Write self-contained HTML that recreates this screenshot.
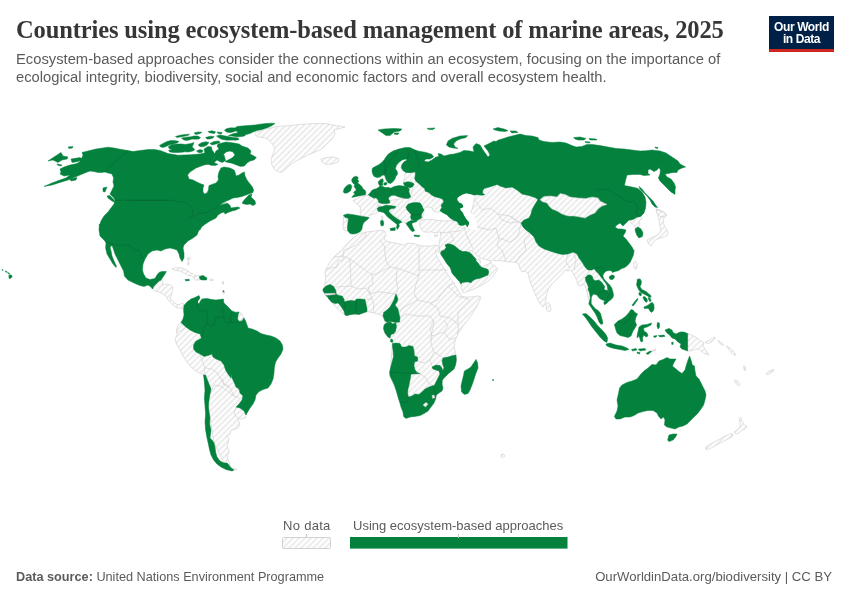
<!DOCTYPE html>
<html lang="en">
<head>
<meta charset="utf-8">
<title>Countries using ecosystem-based management of marine areas, 2025</title>
<style>
html,body{margin:0;padding:0;background:#fff;}
body{width:850px;height:600px;position:relative;overflow:hidden;font-family:"Liberation Sans",sans-serif;}
.title{position:absolute;left:16px;top:16px;margin:0;font-family:"Liberation Serif",serif;font-weight:700;font-size:24.5px;line-height:28px;color:#363636;white-space:nowrap;letter-spacing:-0.12px;}
.sub{position:absolute;left:16px;top:50px;margin:0;font-size:14.75px;line-height:18px;color:#5b5b5b;white-space:nowrap;}
.logo{position:absolute;left:769px;top:16px;width:65px;height:33px;background:#002147;border-bottom:3px solid #ce261e;color:#fff;font-weight:700;font-size:12px;line-height:12px;text-align:center;letter-spacing:-0.4px;}
.logo span{display:block;}
.logo span:first-child{margin-top:5px;}
.src{position:absolute;left:16px;top:569px;font-size:12.7px;line-height:16px;color:#5b5b5b;white-space:nowrap;}
.src b{font-weight:700;}
.url{position:absolute;right:18px;top:569px;font-size:13.15px;line-height:16px;color:#5b5b5b;white-space:nowrap;}
.leg{position:absolute;font-size:13px;line-height:14px;color:#5b5b5b;white-space:nowrap;}
#map{position:absolute;left:0;top:0;}
</style>
</head>
<body>
<h1 class="title">Countries using ecosystem-based management of marine areas, 2025</h1>
<p class="sub">Ecosystem-based approaches consider the connections within an ecosystem, focusing on the importance of<br>ecological integrity, biodiversity, social and economic factors and overall ecosystem health.</p>
<div class="logo"><span>Our World</span><span>in Data</span></div>
<svg id="map" width="850" height="600" viewBox="0 0 850 600">
<defs><pattern id="hatch" patternUnits="userSpaceOnUse" width="4.243" height="4.243" patternTransform="rotate(-45)"><rect width="4.243" height="4.243" fill="#fff"/><rect y="1.3" width="4.243" height="1.7" fill="#e9e9e9"/></pattern></defs>
<g fill="url(#hatch)" stroke="#c8c8c8" stroke-width="0.55" stroke-linejoin="round">
<path d="M255,133 262,130 270,128 278,126.4 290,125.6 300,124.4 314,123.6 326,123.6 336,125.6 345,127 338,129 334,130 335,134 332,139 328,143 324,147 320,150 314,152.4 308,155 302,158 296,161 290,165 286,169 282,172.4 278,171.6 274,169 271.6,164 271,159 273,154 275,149 273,145 269,140 264,137.6 258,137 255,135Z"/>
<path d="M321,159 326,157.6 334,157 339,159 338,162 332,164 326,164.4 322,162.4Z"/>
<path d="M152.4,289 157,283 161,280 163,281 162.4,285 166,284 171,285 173,288 172,292 171,296 170,299 173,301 176,304 179,305 182,303 184,304 184.4,307 183,309 180,308 177,308 174,306 171,303 168,300 166,296 163,294 159,292 155,291Z"/>
<path d="M172,269 176,267.6 182,268 187,270.4 191,273 195,275 198,277 195,277.6 191,276 188,275.6 184,273 180,271 175,270.4Z"/>
<path d="M210,279.4 213,279.2 213.2,280.4 210.2,280.6Z"/>
<path d="M181,322.4 178,325 176.4,330 177,335 175,339 176.4,344 180,350 183,356 187,362 191,367 196,371 201,374 203.6,375 210,418 214,443 224,463 232,468 237,469.6 234,470 231,468 227.6,458 227,455 229,453 229,450 227,447 228,443 229,439 227,436 230,434 231,430 234,429.6 238,428 240,425 239,422 238,418 241,419 245,418 246,415 250,400 230,360 210,340 190,326Z"/>
<path d="M236,312.4 239,312 242,314 244,318 242,321 239,321.4 237,319Z"/>
<path d="M343.5,215.3 345.3,217.6 348.5,218.2 348.2,221.2 347.6,225.9 347.6,230.6 345.3,231.2 343.5,229.4 342.9,224.7 343.5,220Z"/>
<path d="M352.9,200.6 357.6,198.2 362.4,195.9 365.9,195.3 368.8,195.3 371.8,197.1 375.3,198.2 378.2,200.6 378.8,202.9 377.6,205.3 377.1,207.1 377.6,209.4 378.8,211.8 376.5,213.5 372.9,214.4 369.4,215.3 367.1,217.1 361.2,215.9 360,211.8 360.6,208.2 358.8,205.3 355.3,202.9Z"/>
<path d="M381.2,216.5 382.6,216.2 382.9,219.4 381.4,219.8Z"/>
<path d="M405.9,172.9 410.6,171.8 415.3,172.7 422.4,177.6 434.1,189.4 440,195.3 443.8,201.8 442.4,203.5 441.2,205.3 441.4,208.2 441.2,210.4 439.4,211.5 437.1,212.4 434.1,211.5 432.4,210 432.9,208.8 430.8,207.6 428.2,206.8 425.3,207.6 423.5,209.4 424.1,210 422.4,218.8 417.6,220.6 410.6,221.2 406.1,223.5 404.1,222.4 401.8,220.6 398.8,218.8 395.9,216.5 392.9,214.1 390.6,212.4 390,210 391.8,209.2 394.7,208.2 395.9,206.5 389.4,205.6 378.8,207.1 377.6,204.7 378.8,202.4 389.4,200.6 410.6,197.1 412.9,186.5 414.1,184.1 411.8,182.4 407.6,181.8 403.5,182.9 403.5,180 405.3,177.6 404.1,175.3Z"/>
<path d="M421.8,220 425.3,219.6 429.4,219.3 434.1,219.8 438.8,220.5 443.5,220.9 448.2,220.7 451.8,220.7 454.1,220.9 470.6,215.3 480,176 510,180 538,196 550,240 580,250 595.3,267.6 609.4,288.8 607.1,291.2 598.8,285.3 590.8,285.3 590.4,297.1 589.2,300.8 588.2,298.2 587.6,294.7 586.8,291.8 585.9,288.2 584.7,285.3 584,284 581,286 578,285 577,281 575,277 573,273 571,270 568,271 565,270 563,273 560,276.4 556,280 552,284 549,288 547,293 546,299 545,304 543,307 541,305 538.4,301 536,296 533.6,290 531,284 529,278 528,273 525,271 522,272 520,269 519,265 516,262.4 511,262 505,261.6 500,260.5 496,260.8 492.5,260 490,260.8 489,260.5 485,259.5 481,258 477.5,256 474.5,253.5 472,251 469.5,250 469.5,252 471.5,253.8 474,256.5 476,258.5 477.5,260.5 478,259.5 480,259 480.5,263 480,264 480.5,265.8 482.5,267 485,265 488,264.5 490,262.5 490.5,261.2 491.5,264 494,265.5 496.5,267.5 497.8,269.5 496,272 494,275 491.5,278 489,280.5 486,282.5 482,285 478,287 474,289 470,290.5 466,292 463,292.8 462,290 461,287 460.8,284 459.5,281.5 457.5,279.5 455.5,277 453.5,275 451.8,272.5 451,269.5 449.8,267 447.5,264.5 445.8,262 444,259 442.2,256.5 440.5,253.5 440,251 439.5,248.5 438.5,246 438.2,250 438.8,245.9 439.4,242.4 440,238.8 440.6,235.3 440.6,231.8 437.6,232.4 434.1,232.9 430.6,231.8 427.1,232.4 423.5,231.8 421.8,230 420.6,227.1 419.4,224.1 420,221.2Z"/>
<path d="M546,304 548.4,302.4 550.4,305.6 551,309.6 549,312 546.4,310Z"/>
<path d="M434.1,235.3 437.6,234.4 437.4,236.2 434.7,236.7Z"/>
<path d="M641,216 637,217 634,219 631,220 629,220 631,223 633.6,225 635.6,228 638.4,226.6 640,224 639,221 642,219Z"/>
<path d="M656,209 660,210 664,212 666.4,215 664,218 663,222 665,227 668,232 667.6,235 664,237 660,238 656,239.6 653,242.4 651,246 648,243 647,240 651,238 655,236 659,234 661,230 660,226 659,221 658,216 657,212.4Z"/>
<path d="M656,209 660,211 665,213 667,215 663,217 659,216 657,213Z"/>
<path d="M633.5,262.9 635.3,261.2 636.7,262.4 637.1,266.5 635.9,269.4 634.4,268.2 633.5,265.3Z"/>
<path d="M651.6,350.4 656,349 655.6,350.6 652,351.6Z"/>
<path d="M687.6,333.6 692,335 697,338 701,341 704,343 703,345.6 705,349 708,353 709,355 705,354 701,351 698,349 694,350 690,351 687.6,351Z"/>
<path d="M705,342 710,340 714,337 715.6,338 712,341.6 708,343.6Z"/>
<path d="M739,418 741,417.6 742,421 744.4,425 747,426.4 745,429 742,430 739,433 736,434 734,432 737,430 740,427 740,423Z"/>
<path d="M705.6,447 709,445 714,442 720,439 725,436 730,434 733,434 732,437 728,439 723,441.6 718,444 713,447 708,449.6 705.6,449Z"/>
<path d="M734.4,380.4 736.4,380 740,384 739,386 736,383.6Z"/>
<path d="M357,235 360,233.6 366,232 374,231 380,230.4 384.4,231 386,235 384,239 387,241.6 392,242.4 398,243.6 404,245 408,243 414,243.6 420,245.6 426,246 432,246 435,245 438.5,246.2 439.5,248.5 439,252.5 437.8,252 436,250 435.5,251.5 436.8,255.5 438.6,259.5 441,263.5 443.4,267 445.4,270.5 447.4,274 449.4,276.8 451.4,279.8 453.4,282.8 455.4,285.8 457.4,288.8 458.8,291.5 460.5,293.5 461,296 466,297 472,297 478,296 481,297 479,302 476,308 472,314 468,320 463,326 459,332 456,338 454.4,344 454.4,348 455.6,353 456,355 440,380 420,415.6 400,400 390,376 392.4,343.6 390.4,339 388,337 385,333 387,335.6 384.4,332 383.6,328 385,324 385,321 383,316 378,314 372,312.4 367,311.6 363,313 359,314.4 355,314 351,314.4 347,315.6 345,315 343,313.6 339,310 335,306 332,302.4 329.6,300 328,297.6 326,295.6 324.4,293 323,289 325,284 325.6,278 325,272 327,267 330,262 334,257 338,253 342,250 345,246 349,242 353,238Z"/>
<path d="M718.2,340.5 721.1,342.4 723.9,344.8 722.4,345.6 719.7,343.3Z"/>
<path d="M726.7,346.1 730.5,348.6 734.2,351.8 735.6,355.5 732.9,354.2 729.5,350.8Z"/>
<path d="M743.6,365.9 745,366.3 745.7,370.6 744.2,370Z"/>
<path d="M766.2,373 770,370.6 773.8,369.6 772.8,371.5 769.1,373.8 766.8,374.9Z"/>
<path d="M187,258 189.6,257.4 190.4,259.6 188,260.4Z"/>
<path d="M188,261.6 189.2,262 188.8,265.2 187.6,264.4Z"/>
<path d="M222.4,281.6 223.6,281.6 223.6,284 222.4,284Z"/>
<path d="M222.8,291 224.4,291 224.4,293.6 222.8,293.6Z"/>
<path d="M194,278.8 195.5,276.5 197.8,275.5 200,276 200,279.8 197.2,280.2 195,279.8Z"/>
<path d="M501,454.7 503.7,454 505,456 503,457.7 501,456.7Z"/>
</g>
<g fill="none" stroke="#c8c8c8" stroke-width="0.55" stroke-linejoin="round">
<path d="M366,232.4 365,237 360,241 356,245 350,248 344,250 343,256"/>
<path d="M334,257 343,256 343,260 338,261 337,267 331,268 326,269"/>
<path d="M343,256 350,259 351,286 336,287"/>
<path d="M350,259 372,275 378,273 390,267"/>
<path d="M380,240 384.4,246 385,254 386,261 390,267"/>
<path d="M390,267 397,268 419,276"/>
<path d="M419,245.6 419,276"/>
<path d="M419,270 448,270"/>
<path d="M372,275 373,284 368,287 370,294 372,299"/>
<path d="M370,294 378,291.6 388,293 396,294"/>
<path d="M397,268 396,280 398,288 396,294"/>
<path d="M419,276 416,284 414,294 418,300 410,304 402,308 399,314"/>
<path d="M418,300 430,303 438,300 440,296 448,286 455,283"/>
<path d="M448,286 458,296 470,300 462,308 458,312 458,324 450,318 440,316 438,308 430,303"/>
<path d="M400,318 406,314 418,316 430,316 434,322 432,332 430,340"/>
<path d="M458,324 458.4,329.6 457,334"/>
<path d="M351,286 358,289 366,288 370,294"/>
<path d="M366,299.6 370,299 372,299 374,304 373,312.4"/>
<path d="M417.6,361 424,363 430,360 434,352 431,344 432,336 430,328 434,320"/>
<path d="M430,360 433,369"/>
<path d="M434,352 442,357 443,358"/>
<path d="M411,374 420,373.6 426,378 429,384 433,385.6"/>
<path d="M457,337 450,340 444,332 448,326 444,320"/>
<path d="M432,336 444,332"/>
<path d="M440,233 450,232 460,231 464,227"/>
<path d="M464,227 466,234 470,242 473,249"/>
<path d="M450,232 454,240 446,244.4"/>
<path d="M477,227 490,230 496,228 499,238 497,246 502,250 506,261"/>
<path d="M499,238 510,242 518,237 521,223"/>
<path d="M516,263 520,256 526,250 524,240 530,233"/>
<path d="M475,200 482,210 490,208 498,214 510,216 521,223"/>
<path d="M534,237 550,246 562,250"/>
<path d="M568,254 566,262 570,268"/>
<path d="M573,252 576,260 574,270"/>
<path d="M510,216 514,220 521,223"/>
<path d="M498,214 502,220 510,223 518,222"/>
<path d="M181,322.4 186,327 182,330 177,332.4"/>
<path d="M200,354 202,360 205,368 203.6,375"/>
<path d="M205,368 212,369 218,374 221,380 224,384 230,386"/>
<path d="M212,354 216,359"/>
<path d="M210,394 214,385 220,386 226,390 234,396 239,398"/>
<path d="M222,378 224,385 230,388 234,396"/>
<path d="M236,407 234,414 238,418"/>
</g>
<g fill="#03813d" stroke="#03813d" stroke-width="0.5" stroke-linejoin="round">
<path d="M82,152.4 88,151 96,149 108,147.2 114,148 120,149.2 128,150.6 133,151.6 140,150.6 148,149.6 154,149.4 160,150.4 168,153.6 178,155.2 190,154.8 200,154 207,152.4 211,151 214,153 215,157 213,160 210,162.4 207,164.4 204,165 196,168 190,172 187.6,175 189,179 193,180 196,181.6 200,183.6 204,185 203,188 203,192 204.4,194 207,193 208.4,190 209,185.6 212,184.4 216,183 218.4,180 218,176 219,172 221,168 224,167 230,168 234,170 235,172 236,176 239,175 242,173 244.4,172 245,176 247,180 250,184 252.4,187 253.6,190 253,192.4 250,193.6 246,195 242,196.4 237,197.6 233,198 229,200 224,202 221,204 219,205.6 224,204 228,203.6 230,205.6 231,208 234,207.6 238,207 240,208 236,210 232,211 228,212.4 225,214 224,212 221,213 218,215 216,218 213,219.6 210,221 207,223 204,225 201.6,227 200,230 199,230 197,235 193,238 188,241 184,245 183,248 184,253 184,258 182,261.6 180,258 179,254 177,250 174,249 170,248 165,249 161,251 157,250 152,251 148,254 145,259 143,264 142.4,270 143.6,274 146,278 150,279.6 155,278.4 157,275 159,272.4 162,271.4 166.4,271.6 165,274 163,277 161,280 159,281 157,283 154,286 152.4,289 151,287 148,285 144,286.4 140,285.6 134,283 128,280 124.4,276 123.6,271 121,266 118,260 115,254 113,248 112,245.6 110,247 111,251 112,256 114,261 116.4,266 116,267.6 113,264 110,259 107,254 105.6,248 106,243 105,241 100,236 99,230 99.4,224 99.4,226 101,221 104,216 108,212 111,208 114,204 115,200 113,197 110,194 112,190 114,186 113,182 113.6,178 112,174 108,173 105,172 102,172.4 98,172.4 94,171.6 90,171 86,172.4 80,175 74,177.6 68,180 60,182.4 52,185 44,186.4 52,183 60,180 66,178 70,175 64,176 60,174 61,172 60,169 64,167 70,165 77,163.6 80,161.6 79,159 82,158 83,155Z"/>
<path d="M48,161 54,157 61,152.4 63,156 68,157 67,159 62,160 58,162.4 53,160Z"/>
<path d="M71,159 80,157.6 82,159 78,161.6 72,162.4Z"/>
<path d="M68,147 73,146.6 72.4,148 69,148.4Z"/>
<path d="M57,164 62,165 61,166 57.6,165.2Z"/>
<path d="M70,179 77,177.6 76,180 71,181Z"/>
<path d="M103,188 107,187 105,192 103,191.6Z"/>
<path d="M107,196 110,195.6 114,200 115,202.4 112,201 108,198Z"/>
<path d="M224.5,130 227,128.5 231,127.8 235,128 237,126.5 242,126 248,125.5 255,125 260,124.2 266,123.5 272,123.2 275,123.5 272,125.5 268,127.5 262,129.5 257,130.5 253,132 250,133.5 246,134.5 244.5,136 240,136.8 236,136.8 232,136 228.5,135.5 231,134.5 234,133.5 237,133 238,131.5 235,131 233,132 230,132.5 227,132.2 225.5,131.2Z"/>
<path d="M216.5,136 220,135 224,135.8 228,136.5 233,137.5 238,138 239,139.5 236,140.2 232,140 228,140.2 224,139.8 221,139 218.5,137.5Z"/>
<path d="M159.5,145.5 163,143.5 167,141.5 171,140.5 176,140.8 179,141.5 177,143 173,144 169,145 166,146.5 163,147.5 160.5,146.8Z"/>
<path d="M168.5,146.5 172,144.5 177,144 182,144 185,144.5 188,144 191,143.5 194,142.5 193,145 192,147 194.5,149 194,150.5 191,151.5 188,152 185,151.8 182,152.2 178,152.5 174,152.5 170,152 168.5,150.5 172,149.5 169,148.5Z"/>
<path d="M175.5,136.5 180,135.2 185,134.5 189.5,134.2 188,135.5 184,136.2 180,137 177,137.5Z"/>
<path d="M181.5,138 186,137.2 191,136.8 194,136 197.5,136 200.5,137.5 199,139 195,139.2 192,139 189,140 186,140.5 183,139.5Z"/>
<path d="M194,133 198,132 202,132.2 200,133.5 196,134.5Z"/>
<path d="M208,131.5 212,130.8 215.5,131.8 214.5,133.5 211,133 209,132.5Z"/>
<path d="M205.5,137.5 210,136.2 214,136.5 213,138 210,139 207,139Z"/>
<path d="M217,132 222,132.5 221.5,134 218,133.5Z"/>
<path d="M198.5,144.5 202,142.5 206,141.8 209,142.5 207,145 204,146.5 201,146.8 199,146Z"/>
<path d="M210,143.5 214,141.5 219,141 220,142.5 216,144 212,145Z"/>
<path d="M196.5,151 200,149.5 203,150.5 202,152.5 199,152.8Z"/>
<path d="M204,149 208,146.5 211.5,147 212,150 213.5,152 214.5,154.5 212,156 208,155 205,153Z"/>
<path d="M218,144 226,142 234,143 239,144 242,146 248,148 251,151 250,154 254,156 256.4,157.6 254,160 250,161 247,163 244.4,166 240.4,166.4 236,164.8 232,163.2 228,162.4 225,161.6 228,160 232,158 235,155 233,152 230,151 226,152 223,155 220,158 216,158 214,155 216,151 219,149 217,146Z"/>
<path d="M242,203 245,199 249,195 252,194 251,197 253,199 255,201 255.6,204 253,205.6 250,204 247,204.4 244,204Z"/>
<path d="M185,279.6 189,279.2 189.6,280.4 186,281Z"/>
<path d="M199.4,276.4 203,275.4 207,278 206.4,280 202,280 200,279.2Z"/>
<path d="M207,164 210,162 213,160 215,157 224,155 225.6,160.4 222.4,162.4 219.6,161.6 217,160 214,162.4 218,164.4 215,165.6 211,165.2Z"/>
<path d="M184,305.6 187,302 191,299 195,297.6 199,295.6 200,298 198,301 199,303 202,299 207,298.4 212,299.6 216,300 220,299.6 223,300 224,303 228,307 232,311 236,312.4 239,312 238,315 237.6,319 239,321.4 242,321 244,318 245.6,321 247,325 248,328 252,329 257,331 261,333.6 266,335 271,336 276,338 280,341 282.4,345 283,349 281,354 278,358 275.6,362 274.4,367 274,373 273,379 271,384 268,388 263,389.6 259,391.6 256,395 255,400 253,404 250,408 247,413 246,415 244,411 240,408 236,407 239,404 242,400 243,396 240,393 239,389 236,387 234,382 232,378 231,374 231,378 228,374 225.6,370 224,365 221,361 216,359 213,357 212,354 208,355.6 204,356.4 200,354 196,352 193.6,349 193.6,345 195.6,341.6 199,339.6 201.6,338 200,334 195,332.4 190,330 186,327 183,324.4 181,322.4 183,319 184,315 183.6,310Z"/>
<path d="M203.6,375 204.4,382 205,390 204.4,398 205,406 205.6,414 205,422 205.6,430 207,438 208.4,444 209.6,450 211,455 213.6,460 217,464 221,467 226,469.6 232,471 234,470 231,468 228,464 227,463 224,463 220,461 217,457 215.6,452 215,447 214,443 212,440 210,438 211,430 209.6,424 210,418 209,412 208.4,406 209,400 210,394 211,389 209,384 207,379 205.6,375Z"/>
<path d="M351.8,179.4 353.5,177.1 356.5,176.2 358.2,177.6 357.6,179.4 358.8,181.2 357.6,182.9 360,184.7 361.8,186.5 362.9,188.8 365.3,190.6 365.9,192.9 365.3,194.7 362.4,195.3 358.8,195.9 355.3,196.7 351.8,197.4 353.5,195.3 355.3,194.1 353.5,192.9 354.7,191.2 356.5,190 355.3,188.2 354.1,186.5 354.7,184.7 352.9,182.9 351.8,181.2Z"/>
<path d="M343.3,191.8 344.1,188.8 345.9,186.5 348.2,184.7 350.6,184.5 351.8,186.5 351.2,188.8 350.6,190.8 348.2,192.4 345.9,193.2 344.1,192.9Z"/>
<path d="M368.2,194.7 370,192.9 371.8,190.4 374.1,189.2 376.5,188.8 376.7,190.6 375.9,192.9 376.5,195.3 375.9,197.6 374.1,198.2 371.8,197.1 370,195.9Z"/>
<path d="M376.5,188.8 378.2,187.6 380,185.9 382.9,186.5 385.3,187.6 388.2,187.3 390.6,188.2 391.2,190.6 390.6,192.9 391.8,195.3 390,196.5 388.2,198.2 389.4,200.6 390,202.9 387.1,203.5 384.1,203.8 381.2,203.3 378.8,202.4 378.2,200 375.9,197.6 376.5,195.3 375.9,192.9 376.7,190.6Z"/>
<path d="M378.2,181.8 380.6,179.4 382.9,178.8 383.3,181.2 382.4,183.5 382.9,185.3 380,185.9 378.6,184.1Z"/>
<path d="M383.8,182.9 386.5,182.4 387.1,184.1 385.3,185.3 383.8,184.7Z"/>
<path d="M390.6,188.2 394.1,186.5 398.8,185.6 403.5,186.1 407.6,187.1 409.4,189.4 408.8,191.8 410,194.7 410.6,197.1 408.2,198.6 404.7,198.2 401.2,197.6 397.6,196.5 394.7,195.3 391.8,195.3 390.6,192.9 391.2,190.6Z"/>
<path d="M403.5,182.9 407.6,181.8 411.8,182.4 414.1,184.1 412.9,186.5 410,188 407.6,187.1 405.3,186.1 404.1,184.7Z"/>
<path d="M377.1,208.8 378.8,207.1 382.4,206.5 385.9,205.3 389.4,205.6 392.9,206.1 395.9,206.5 394.7,208.2 391.8,208.5 389.4,209.4 388.8,211.2 390,212.9 392.4,215.3 395.3,217.6 398.2,219.4 401.2,221.2 401.8,222.4 400,222.9 398.8,224.1 399.4,225.9 398.2,228.2 397.1,229.4 396.5,227.1 397.1,224.7 395.3,222.9 392.9,221.2 390,218.8 387.1,216.5 385.3,214.1 383.5,212.4 380.6,211.8 378.2,211.2Z"/>
<path d="M380.6,220.9 382.9,220.2 383.8,222.9 383.3,225.6 381.2,225.9 380.6,223.5Z"/>
<path d="M390,228.5 395.3,227.6 395.1,230.4 390.6,230.6Z"/>
<path d="M405.9,207.1 408.2,204.1 411.8,202.9 415.9,202.4 420,202.9 421.8,205.3 422.9,208.2 424.1,210 422.9,211.8 421.8,213.5 421.2,215.9 421.8,217.6 420,218.8 417.6,220 414.1,220.2 411.2,219.4 410.6,217.1 411.2,214.7 409.4,212.4 407.1,210Z"/>
<path d="M406.1,223.5 408.2,221.8 411.2,220.6 414.7,220.6 417.1,220 416.5,221.8 413.5,222.4 411.8,223.5 412.4,225.9 413.5,228.2 414.7,230.6 412.4,231.8 410.6,230 408.8,227.6 407.1,225.3Z"/>
<path d="M343.5,215.3 347.1,213.9 351.8,214.4 356.5,215.3 361.2,216.2 365.9,217.1 369.2,217.6 367.6,219.4 365.3,221.2 363.5,222.9 362.4,225.9 361.8,229.4 360,231.8 356.5,233.5 352.9,234.1 350,233.5 347.6,230.6 347.6,225.9 348.2,221.2 348.5,218.2 345.3,217.6Z"/>
<path d="M378,130 384,129 394,128.4 402,129 400,131 394,132 390,135.6 386,135.6 382.4,133Z"/>
<path d="M394,133 399,133 398,134.4 394.4,134.2Z"/>
<path d="M427,128.4 435,128 433,129.6 429,129.6Z"/>
<path d="M446.4,145 448,141 452,138.4 460,136 467.6,135.6 466,137.6 460,139 456,141 453.6,144 455,147 458,148.4 453,148 449,147Z"/>
<path d="M414,235 420,235.6 419,236.8 414.4,236.2Z"/>
<path d="M372,171.2 372.4,168.2 375.3,166.5 378.8,164.7 381.8,162.4 384.1,160 385.6,157.6 388.4,154 393,151 399,149 405,147.6 410,147.6 414,149.6 418,151 426,152.4 432,154.4 433.6,157 430,159 426,159 424,161 428,162 432,160 436,157 439,156.4 438,153.6 441,154 444,156 450,154.4 454,154 460,152.4 464,150.4 470,151 474,152 473,147 476,143.6 480,145 483,150 488,157 490,155 488,151 484,146 488,144 494,141 496,141.6 498.4,140 502,139 508,137 516,135 520,134 526,135.6 532,136 538,137.6 539,140 544,141.6 552,142.4 560,142 566,143 572,145.6 576,147 582,146.4 587,144.4 592,144.4 600,145.6 608,147 616,148.4 624,149 632,150 640,151 646,150.8 652,150 660,151 666,153 672,157 678,161 680,164 685.6,167 682,168 678,170 677,172.4 673,172.4 668,173.6 665,174 667,177 671,179 674,183 675.6,187 675,190 675,194.4 671,192 667,188 663,184 660,181 658.4,178 660,174 660.4,170 659,167.6 657,170 654,171.6 650,169 648,170 648,173.6 650,175 644,175.6 640,174.4 634,174.4 627,175 625.6,180 624.4,185.6 632,187 638,188.4 642,192 645,197 646,202 645.6,208 644,213 641,216 637,217 600,210 538,199.6 535,197.6 529,195.6 522,194 517,190 512,187 506,188 500,186 497,184.4 494.1,185.6 489.4,187.1 484.7,188.2 482.9,190 482.4,192.9 484.7,194.7 482.4,195.3 477.6,194.7 473.5,195.1 469.4,193.9 465.9,193.5 462.4,194.7 459.4,196.5 457.4,198.2 457.6,200.6 459.4,202.4 461.8,203.5 463.5,205.9 462.9,207.6 460,208.8 461.2,210.8 462.9,212.4 464.1,215.3 465.9,218.2 467.6,220.6 469.4,222.4 468.8,224.7 467.6,227.1 467.1,225.9 465.3,224.5 463.5,225.3 461.2,225.6 458.8,224.7 458.2,222.9 456.5,221.2 454.1,220.6 452.4,219.6 450,217.9 447.1,214.9 442.9,212.7 440,210.8 440.6,209.4 441.8,207.6 441.2,205.3 442.4,203.5 443.8,201.8 442.9,199.4 440.6,198.2 437.6,197.4 434.1,196.5 431.2,194.7 428.8,192.4 425.3,191.2 424.7,188.8 421.8,186.5 418.8,183.5 415.9,181.2 414.7,178.8 415.3,175.3 415.3,171.8 418.8,170 415.3,171.8 410.6,172.7 405.9,172.4 402.9,170.6 401.2,167.6 401.8,164.7 404.1,161.8 407.1,160 406,159 402,160 398.8,162.4 396.5,165.3 395.3,168.8 397.1,171.2 397.6,174.1 395.9,176.5 394.7,179.4 392.9,181.8 390.6,183.5 388.2,182.9 386.5,180.6 385.3,177.6 384.5,174.7 382.4,175.3 380,177.1 377.1,177.6 374.1,176.5 372.7,174.1Z"/>
<path d="M493,129 498,127.6 504,129 508,130.6 505,131.6 499,131 495,130Z"/>
<path d="M510,131 516,131 518,132.4 512,133Z"/>
<path d="M573.6,137.6 580,137 586,138.4 584,140 578,140 575,139Z"/>
<path d="M589,138.4 596,139 597,140 590,140Z"/>
<path d="M585,141.6 590,142 589.6,143 585.6,142.6Z"/>
<path d="M639,186.4 642,189 645,193 649,197 653,201 656,205.6 657.6,207.6 655,207 652,204 650,200 647,196 643,192 640,189Z"/>
<path d="M655,147 658,147.6 657.6,148.6 655.4,148Z"/>
<path d="M440.5,253.5 441.5,251 444.5,250 446.2,247.5 445,245 448,243.8 451,244.2 454,245.5 456.5,247.5 459.5,250 462.5,251.5 466,251.5 469,252.2 471.5,254 473.5,256.5 475.5,258.5 476.5,261.5 478.5,263.5 480,266 482,267.5 485.5,268.5 488,269.5 488.8,272 488,275 485,276.2 482,277.5 479,278.5 476,279 473,280.5 471,282.8 468.5,282 465.5,282 462.5,282.5 460.8,284 459.5,281.5 457.5,279.5 455.5,277 453.5,275 451.8,272.5 451,269.5 449.8,267 447.5,264.5 445.8,262 444,259 442.2,256.5Z"/>
<path d="M641,216 637,217 634,219 631,220 629,220 626,223 623,226 620,223 617,225 615,227 618,229 622,229 626,230 625,233 623,236 626,239 629,243 632,247 634,251 634.1,250.6 633.5,254.7 631.8,258.8 630,262.4 627.6,265.3 624.7,267.6 621.2,268.8 618.8,270.6 615.3,271.4 612.4,272.4 611.8,270.9 609.4,270.6 606.5,270.9 604.1,272.9 602.9,275.3 603.5,278.2 605.3,280.6 607.6,282.9 610,285.3 611.8,288.2 612.9,291.8 613.5,295.3 612.9,297.6 611.2,299.4 608.8,301.2 606.5,303.5 604.5,304.7 603.8,302.9 604.7,300.6 606.5,297.1 608.2,293.5 608.2,290.6 607.6,288.8 607.1,285.3 605.3,282.4 602.9,279.4 600.6,276.5 598.8,274.1 596.5,271.8 594.1,268.8 592,270 588,270 585,267 582,262 579,258 577,254 573,252 568,254 562,254.4 556,253 550,251 544,249 539,246 536,242 534,237 530,233 526,230 523,227 521,223 524,220 529,218 531,214 532,210 534,206 538,199.6 570,190 620,188 640,200Z"/>
<path d="M609.4,276.5 611.8,274.9 614.1,275.6 614.4,277.6 612.7,279.4 610.4,279.4 609.2,278Z"/>
<path d="M585.3,277.6 587.6,275.3 590,274.7 592.4,276.5 593.2,279.4 595.3,280.8 598.2,280 600.6,281.2 602.9,284.1 604.7,286.5 604.1,288.8 605.3,290.6 607.6,290.6 608.2,293.5 606.5,297.1 604.7,300.6 602.4,300 600,298.8 598.2,297.1 597.4,295.3 595.9,294.7 594.1,294.1 592.7,294.7 591.5,297.1 591.2,300.6 591.2,303.5 592.9,305.9 595.3,308.8 598.2,310.6 600.6,313.5 601.4,317.1 602,319 603,323.6 601,324.4 599,322 597.1,317.1 595.3,313.5 592.9,310 590.6,306.5 588.8,304.1 589.4,301.2 590.4,298.2 590,295.3 589.2,291.8 588,289.4 588.5,287.1 587.3,284.1 585.6,280.6Z"/>
<path d="M635,229 638,227 641,229 643,233 642.4,236.4 639,238 637,235.6 635.6,232Z"/>
<path d="M637.1,279.4 640,278.8 641.4,281.2 641.2,284.1 640,286.5 641.8,289.4 644.1,290.6 646.5,291.8 648.2,293.5 650.6,295.3 651.2,297.1 649.4,297.6 647.6,295.9 645.3,294.7 642.9,293.5 641.2,292.4 639.1,290.6 637.6,287.6 636.5,284.7 637.1,281.8Z"/>
<path d="M639.1,292.4 641.2,292.9 641.4,295.3 640,295.9 638.8,294.1Z"/>
<path d="M642.9,297.1 644.7,296.5 646.5,298.2 647.6,300.6 646.5,302.4 644.9,301.2 643.8,299.4Z"/>
<path d="M648.2,297.6 650,298.2 651.2,300.6 650,301.8 648.8,300Z"/>
<path d="M643.8,307.1 646.5,305.9 648.8,304.7 650.6,302.9 652.4,302.4 653.9,304.7 654.1,308.2 653.5,310.6 651.8,312.4 650,311.2 648.8,308.8 647.1,308.2 644.7,308.8Z"/>
<path d="M632,305.3 634.1,302.4 636.5,299.4 637.9,298.2 637.6,300 635.5,302.9 633.2,305.9Z"/>
<path d="M582.4,314 586,313.6 590,317 594,321 598,326 602,330 605.6,334 607.6,338 607,342.4 604,341 600,337 596,332 592,327 588,321 585,317Z"/>
<path d="M606,344 610,343 616,345 622,346 627,348 629,349.4 625,350.4 620,349.6 614,348.4 609,347 606.4,345.6Z"/>
<path d="M631.6,349.4 636,348.4 637,350 632.4,351Z"/>
<path d="M638.4,349 645,348.6 646,350 640,351Z"/>
<path d="M637,352 640,352.4 639.6,354 637.4,353.4Z"/>
<path d="M646,353.6 650,351 651.6,351.6 648,354.4Z"/>
<path d="M614.4,324.4 618,321 622,319 626,316 629,312.4 631,309.6 633,310 635,312.4 637.6,314 636,317 635,321 636.6,325 635,328 633,331 631,336 628,337.6 624,336.4 620,335.6 617,333 615.6,329Z"/>
<path d="M639,327 642,325 647,324.4 651.6,323 651,325 647,327 643.6,328 644,331 647,333 648,336 646,337 644,335 642.4,338 643,341 641,342 640,339 639,336 637,338 637.4,334 638.4,330Z"/>
<path d="M657.4,322.4 659.4,323 659.6,327 658,329 657,326Z"/>
<path d="M653.6,336 657,335.6 656,337.2 654,337.2Z"/>
<path d="M658.4,335.6 664,335 665,336.4 660,337Z"/>
<path d="M665,330 669,328.4 672,330 673,332.4 676,334 680,332 684,332 687.6,333.6 687.6,351 685,350 682,349 680,347 681,344 678,342 675,339 672,338 669.6,335 667,333Z"/>
<path d="M671.6,342.4 673.2,342 673,344.4 671.8,344.4Z"/>
<path d="M614.4,416.4 617,411 618,406 617,400 618.4,394 619.6,388 622,385 627,382.4 632,381 637,379 641,374 644,371 648,368 652,364.4 656,365 659,361 663,359.6 667,357.6 670,359 676,359 674,362.4 672.4,366 676,369 679,371.6 682,373.6 685,370 686.4,365 688,360 689.6,356 691,360 692.4,365 694.4,366 695,371 696,376 699,379 701,383 703,387 705,391 706,395 705,400 703.6,405 701,409 698,413 694,417 690,421 687,424 683,426 679,427 675,429 671,428 667,427 664.4,425 665,420 663.6,417 661,419 658.4,416 657,413 653,410.4 648,410.4 643,411.6 638,413 634,415.6 630,417 625,417 620,419 616,419Z"/>
<path d="M669,435 673,434 677,434 675.6,437 673,440 669,441.6 667.6,440Z"/>
<path d="M323,289 326,286 330,284.4 333.6,286.4 335.6,290 336.4,294.4 339,295.6 342,296 344,299 344.4,302 347,301 351,300.4 355,301 356.4,299 361,299 365,299.6 366,304 367,309 367,311.6 363,313 359,314.4 355,314 351,314.4 347,315.6 345,315 344,311 342,308 340,305 338,303 335,303.6 332,302.4 329.6,300 328,297.6 326,295.6 324.4,293 323,291Z"/>
<path d="M396,294 398,299 397,302 395,305 398,309 399,314 400,318 399.6,322 396,322.4 391,321.6 387,322 385,321 383,316 383.6,312.4 387,310 390,307 392,303.6 394,300 395,296.4Z"/>
<path d="M387,322.4 391,322 392,324 396,323 396.4,327 395.6,331 394,333.6 391,334.4 390,338 388,337 385,333 383.6,329 384,325Z"/>
<path d="M391,339 393,340 392.4,342.4 390.4,341.6Z"/>
<path d="M392.4,343.6 396,343 400,343.6 401.6,347 406,347 409,345.6 413,346.4 414,351 414.4,356 417.6,357 417.6,361 414.4,362 414,366 415,370 417,372.4 420,373.6 411,374 410,380 409,385 408,389 407.6,393 408.4,397 412,396 415,394 419,394.4 422,392 425,389 429,387 433,385.6 434,386 436,382 438,378 440,374 439,371 436,370 433,369 432,367 436,365 440,365.6 442,368 442.4,371 444,368 443,365 442,361 443,358 448,357 453,355.6 456,355 456.4,360 455.6,365 454,369 451,371.6 448,374 445,377 442.4,380 442,384 443,388 442,391 439,393 436.4,395 435.6,399 434,403 431,407 428,411 424,413.6 420,415.6 415,416.4 410,417 406,418.4 403.6,416.4 403,412 401,407 399.6,402 398,397 396.4,391 394.4,385 392,380 390,376 389.6,372 391,366 392.4,361 393.6,356 393,350 392.4,346Z"/>
<path d="M461,386 462.4,380 463.6,375 464.4,371 468,369 471,367 473.6,363 476,359.4 477.6,363 478,368 476,373 474.4,378 472.4,384 470,390 468,393.6 464.4,394.4 461.6,392Z"/>
<path d="M492.6,379.6 493.6,379.6 493.6,380.6 492.6,380.6Z"/>
<path d="M8.8,275.4 11,274.7 12.2,276.5 10.8,278.2 9.1,278.5Z"/>
<path d="M5.4,270.9 7.1,271.7 6.8,272.4 5.2,271.6Z"/>
<path d="M7.8,272.4 9.6,273.4 9.3,274.3 7.6,273.1Z"/>
<path d="M2.1,269.5 3.1,269.7 3,270.5 2.1,270.2Z"/>
<path d="M220.5,299.6 223.5,299 223.3,301 220.8,301.3Z"/>
<path d="M223,290.8 224,290.8 224,291.8 223,291.8Z"/>
</g>
<g fill="url(#hatch)" stroke="#c8c8c8" stroke-width="0.55" stroke-linejoin="round">
<path d="M540,199.6 544,196.4 551,196 557,197 560,193.6 565,194.4 570,197 578,198 586,198.4 592,197 598,198 600,201 604,203 607,204.4 602,206 598,209 595,213 590,215 585,218 580,217 574,216 568,216 562,214 557,211 552,209 549,206 547,203 542,201.6Z"/>
<path d="M324.4,293.6 335,293.2 335.6,294.6 324.8,295.2Z"/>
<path d="M423,405 426,402.4 428,404 425.6,407Z"/>
<path d="M432,395.6 434,395 435,397.6 432.6,398.4Z"/>
</g>
<g fill="#fff" stroke="none">
<path d="M459.4,196.5 462.4,194.7 465.9,193.5 469.4,194.1 473.5,195.3 471.8,198.8 469.4,201.8 470.6,205.3 468.8,207.6 467.6,210.6 470.6,212.9 473.5,215.3 475.3,218.8 476.5,222.4 477.1,226.5 477.6,229.4 474.1,230 470.6,228.8 468.8,227.6 468,226.8 468.8,224.7 469.4,222.4 467.6,220.6 465.9,218.2 464.1,215.3 462.9,212.4 461.2,210.8 460,208.8 462.9,207.6 463.5,205.9 461.8,203.5 459.4,202.4 457.6,200.6 457.4,198.2Z"/>
<path d="M198,300.8 199.2,300.6 199.4,303.2 198.2,303.4Z"/>
</g>
<g fill="none" stroke="#0b5a30" stroke-width="0.4" stroke-linejoin="round">
<path d="M128,150.6 104,172"/>
<path d="M115,200.4 170,200.4"/>
<path d="M130,200.4 172,200.4 180,202 186,202.4 190,206 193,210 192.4,215 189,218.4 196,215 202,213 208,212 214,209 218,206 222,203.6 225,202.4 228,204"/>
<path d="M105,241 108,242.4 113,244.4 120,245.6 126,245 130,245 132.4,248.4 135.6,250.4 138.4,250 140.4,253.6 142.4,257.6 144.4,260"/>
<path d="M199,303 197,306 199,310 204,311 207,312 207.6,317 207,322 208.4,324.4"/>
<path d="M223,307 222,311 224,315 223,317 225,320 226,323"/>
<path d="M208.4,324.4 210,325.6 214,325 215,321 216,317.6 220,317 223,317"/>
<path d="M232,312 231,316 230,320 232,322.4"/>
<path d="M226,323 229,322.4 232,322.4 236,322 239,321.4"/>
<path d="M208.4,324.4 205,325 203.6,329 203,333 201.6,338"/>
<path d="M384.1,160 385.3,164.7 384.7,169.4 385.3,172.9 384.5,174.7"/>
<path d="M390.6,188.2 391.2,190.6 390.6,192.9 391.8,195.3"/>
<path d="M376.5,188.8 376.7,190.6 375.9,192.9 376.5,195.3 375.9,197.6"/>
<path d="M411.2,214.7 415.3,215.1 418.8,214.7 421.8,213.5"/>
<path d="M407.6,187.1 405.3,186.1 404.1,184.7"/>
<path d="M407,149 409,154 407,159"/>
<path d="M414,149.6 416,154 418,160 419,165 419,168"/>
<path d="M399,149 396,154 390,160 387,167 384,176"/>
<path d="M598,190 604,189 610,190 616,194 622,198 628,202 634,201.6 637,205 638,209 636,212 637,215 640,217"/>
<path d="M538,199.6 540,199.6"/>
<path d="M390,372.4 398,372.4 406,373 417,373.6"/>
<path d="M400,401.6 404.4,403 407.6,402 408.4,397"/>
<path d="M434,386 434.4,390 435.6,394 436.4,395"/>
<path d="M356,299.6 356.4,304 355.6,309 356.4,314"/>
<path d="M344.4,302 345,306 344,311"/>
<path d="M336.4,294.4 333,295.6 330,297 329,299"/>
<path d="M618,321 622,323.6 627,322 630,318 631,315 633.6,313.6"/>
<path d="M597,295.6 599,293 603,291 607,290 608.4,293 608,297 605,300"/>
<path d="M594.1,268.6 597.6,267.6 600.6,267.1 603.5,268.2 605.9,270.9"/>
</g>
<rect x="282.5" y="537.5" width="48" height="11" rx="1" fill="url(#hatch)" stroke="#d2d2d2" stroke-width="1"/>
<rect x="350" y="537" width="217.5" height="11.6" fill="#03813d"/>
<path d="M306.5,534V537M458.5,534V538" stroke="#c8c8c8" stroke-width="1" fill="none"/>
</svg>
<div class="leg" style="left:283px;top:519px;letter-spacing:0.3px;">No data</div>
<div class="leg" style="left:353px;top:519px;">Using ecosystem-based approaches</div>
<div class="src"><b>Data source:</b> United Nations Environment Programme</div>
<div class="url">OurWorldinData.org/biodiversity | CC BY</div>
</body>
</html>
